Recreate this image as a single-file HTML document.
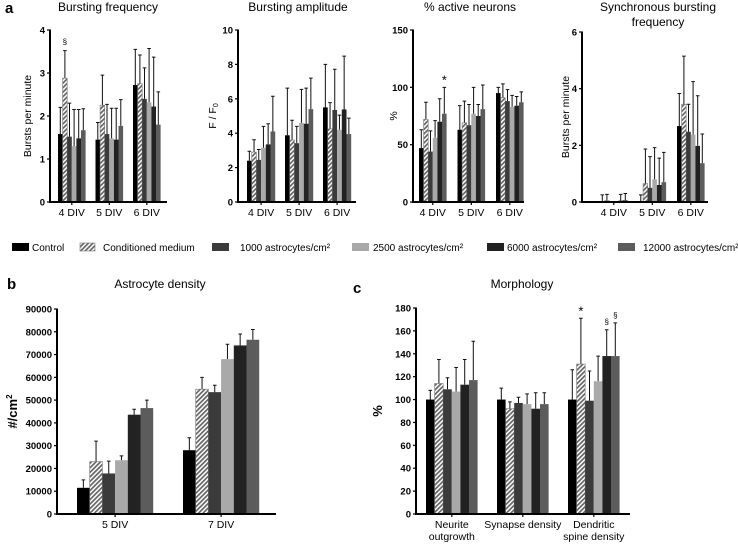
<!DOCTYPE html>
<html><head><meta charset="utf-8"><style>
html,body{margin:0;padding:0;background:#fff}
svg{display:block;font-family:"Liberation Sans",Arial,sans-serif}
.tk{font-size:9.5px;font-weight:bold;fill:#000}
.gl{font-size:10.5px;fill:#000}
.tt{font-size:12px;fill:#000}
.yb{font-size:13px;font-weight:bold;fill:#000}
.pl{font-size:15px;font-weight:bold;fill:#000}
.lg{font-size:10px;fill:#000}
</style></head><body>
<svg id="fig" width="738" height="547" viewBox="0 0 738 547">
<defs>
<pattern id="hatch" patternUnits="userSpaceOnUse" width="3.2" height="3.2" patternTransform="rotate(45)">
<rect width="3.2" height="3.2" fill="#fff"/><rect width="1.7" height="3.2" fill="#666"/>
</pattern>
</defs>
<text class="pl" x="5" y="13">a</text>
<text class="pl" x="7" y="289">b</text>
<text class="pl" x="353" y="293">c</text>
<g id="legend"></g>
</svg>
<script>
const seriesNames = ["Control","Conditioned medium","1000 astrocytes/cm²","2500 astrocytes/cm²","6000 astrocytes/cm²","12000 astrocytes/cm²"];
const seriesFills = ["#000","url(#hatch)","#3b3b3b","#a9a9a9","#222","#5c5c5c"];

const divCats = ["4 DIV","5 DIV","6 DIV"];
const freqMean = [[1.58,2.88,1.52,1.3,1.48,1.67],[1.45,2.25,1.58,1.48,1.45,1.77],[2.72,2.75,2.4,2.32,2.22,1.8]];
const freqTop  = [[2.2,3.52,2.3,2.15,2.15,2.17],[1.85,2.95,2.27,2.18,2.18,2.38],[3.55,3.42,3.12,3.57,3.37,2.56]];
const freqTicks = [0,1,2,3,4];

const ampMean = [[2.4,2.9,2.45,3.15,3.35,4.1],[3.88,3.6,3.42,4.6,4.55,5.4],[5.5,4.25,5.35,4.2,5.38,3.95]];
const ampTop  = [[2.95,3.62,3.05,4.4,4.55,6.15],[6.62,4.75,4.4,6.55,6.62,7.2],[8.0,5.78,7.72,5.05,8.48,4.88]];
const ampTicks = [0,2,4,6,8,10];

const actMean = [[47,72,44,56,70,77],[63,69,67,77,75,81],[95,91,88,83,84,87]];
const actTop  = [[63,87,62,71,90,100],[84,88,85,100,85,102],[100,103,98,93,92,96]];
const actTicks = [0,50,100,150];

const syncMean = [[0.03,0.05,0,0,0.05,0.07],[0.03,0.65,0.5,0.8,0.6,0.7],[2.68,3.45,2.48,2.38,1.98,1.37]];
const syncTop  = [[0.25,0.27,0,0,0.27,0.3],[0.25,1.87,1.6,1.92,1.55,1.75],[3.83,5.15,3.45,4.25,3.75,2.4]];
const syncTicks = [0,2,4,6];

const densCats = ["5 DIV","7 DIV"];
const densMean = [[11500,23000,17800,23600,43600,46500],[28000,54800,53500,68000,74000,76500]];
const densTop  = [[15000,32000,23200,25500,46000,50000],[33500,60000,56500,74500,79000,81000]];
const densTicks = [0,10000,20000,30000,40000,50000,60000,70000,80000,90000];

const morphCats = [["Neurite","outgrowth"],["Synapse density"],["Dendritic","spine density"]];
const morphMean = [[100,114,109,107,113,117],[100,92,97,96,92,96],[100,131,99,116,138,138]];
const morphTop  = [[108,135,119,128,135,151],[110,98,102,105,106,106],[126,171,125,138,161,167]];
const morphTicks = [0,20,40,60,80,100,120,140,160,180];

const NS="http://www.w3.org/2000/svg";
const svg=document.getElementById('fig');
function mk(tag,attrs,parent,txt){const e=document.createElementNS(NS,tag);for(const k in attrs)e.setAttribute(k,attrs[k]);if(txt!==undefined)e.textContent=txt;(parent||svg).appendChild(e);return e;}

function panel(p){
  const g=mk('g',{});
  
  
  const max=p.ticks[p.ticks.length-1];
  const y=v=>p.y0-(v/max)*(p.y0-p.y1);
  p.title.forEach((t,i)=>{const e=mk('text',{class:'tt',x:p.tx,y:p.ty+i*15,'text-anchor':'middle'},g,t);
    
    });
  p.mean.forEach((grp,gi)=>{
    grp.forEach((v,si)=>{
      const x=p.gStart+gi*p.gStep+si*p.bw;
      const top=p.top[gi][si];
      if(top>v){
        const ln=mk('path',{d:`M${x+p.bw/2},${y(v)}V${y(top)}M${x+p.bw/2-1.8},${y(top)}H${x+p.bw/2+1.8}`,stroke:'#111','stroke-width':1,fill:'none'},g);
        
        
      }
      if(v>0){
        const r=mk('rect',{x:x,y:y(v),width:p.bw,height:p.y0-y(v),fill:seriesFills[si]},g);
        if(si===1){r.setAttribute('stroke','#777');r.setAttribute('stroke-width','0.6');}
        
        
      }
    });
  });
  const ax=mk('path',{d:`M${p.x0},${p.y1-0.5}V${p.y0}H${p.x1}`,stroke:'#000','stroke-width':2,fill:'none'},g);
  
  
  p.ticks.forEach(t=>{
    mk('line',{x1:p.x0-3,x2:p.x0,y1:y(t),y2:y(t),stroke:'#000','stroke-width':1.2},g);
    const e=mk('text',{class:'tk',x:p.x0-5,y:y(t)+3.5,'text-anchor':'end'},g,String(t));
    
    
  });
  p.cats.forEach((c,gi)=>{
    const cx=p.gStart+gi*p.gStep+p.bw*3;
    mk('line',{x1:cx,x2:cx,y1:p.y0,y2:p.y0+3,stroke:'#000','stroke-width':1.2},g);
    const lines=Array.isArray(c)?c:[c];
    lines.forEach((l,li)=>{const e=mk('text',{class:'gl',x:cx,y:p.y0+14+li*12,'text-anchor':'middle'},g,l);
      
      });
  });
  const yt=mk('text',{class:p.ytClass||'gl',x:0,y:0,'text-anchor':'middle',transform:`translate(${p.ytx},${(p.y0+p.y1)/2}) rotate(-90)`},g);
  yt.innerHTML=p.ytitle;
  
  
  (p.ann||[]).forEach(a=>{
    const x=p.gStart+a[0]*p.gStep+a[1]*p.bw+p.bw/2;
    const e=mk('text',{x:x,y:y(p.top[a[0]][a[1]])-a[3],'text-anchor':'middle','font-size':a[4]||9},g,a[2]);
    
    
  });
}

panel({name:'bursting-frequency-chart',title:['Bursting frequency'],tx:108,ty:11,mean:freqMean,top:freqTop,ticks:freqTicks,cats:divCats,
  x0:50,x1:167,y0:202,y1:30,gStart:58,gStep:37.5,bw:4.6,ytitle:'Bursts per minute',ytx:31,ann:[[0,1,'§',6,8]]});
panel({name:'bursting-amplitude-chart',title:['Bursting amplitude'],tx:298,ty:11,mean:ampMean,top:ampTop,ticks:ampTicks,cats:divCats,
  x0:238,x1:356,y0:202,y1:30,gStart:247,gStep:38,bw:4.7,ytitle:'F / F<tspan font-size="7" dy="2">0</tspan>',ytx:216});
panel({name:'active-neurons-chart',title:['% active neurons'],tx:470,ty:11,mean:actMean,top:actTop,ticks:actTicks,cats:divCats,
  x0:413,x1:524,y0:202,y1:30,gStart:419,gStep:38.5,bw:4.6,ytitle:'%',ytx:397,ann:[[0,5,'*',3,13]]});
panel({name:'synchronous-bursting-chart',title:['Synchronous bursting','frequency'],tx:658,ty:11,mean:syncMean,top:syncTop,ticks:syncTicks,cats:divCats,
  x0:582,x1:708,y0:202,y1:32,gStart:600,gStep:38.5,bw:4.6,ytitle:'Bursts per minute',ytx:569});
panel({name:'astrocyte-density-chart',title:['Astrocyte density'],tx:160,ty:288,mean:densMean,top:densTop,ticks:densTicks,cats:densCats,
  x0:57,x1:276,y0:514,y1:309,gStart:77,gStep:106,bw:12.7,ytitle:'#/cm<tspan font-size="8" dy="-5">2</tspan>',ytx:17,ytClass:'yb'});
panel({name:'morphology-chart',title:['Morphology'],tx:522,ty:288,mean:morphMean,top:morphTop,ticks:morphTicks,cats:morphCats,
  x0:416,x1:630,y0:514,y1:308,gStart:426,gStep:71,bw:8.6,ytitle:'%',ytx:382,ytClass:'yb',
  ann:[[2,1,'*',3,13],[2,4,'§',5,8],[2,5,'§',5,8]]});

const lg=document.getElementById('legend');
const lgSq=[12,80,212,352,487,618];
const lgTx=[32,103,240,373,507,643];
seriesNames.forEach((n,i)=>{
  const r=mk('rect',{x:lgSq[i],y:243,width:i===1?15:17,height:8,fill:seriesFills[i]},lg);
  if(i===1){r.setAttribute('stroke','#777');r.setAttribute('stroke-width','0.6');}
  
  
  const t=mk('text',{class:'lg',x:lgTx[i],y:251},lg,n);
  
  
});
</script>
</body></html>
